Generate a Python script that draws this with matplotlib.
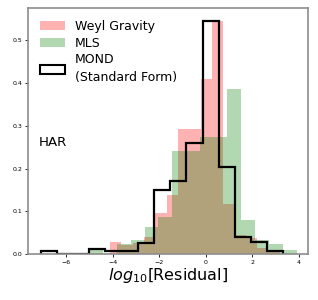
"""
plot.py

Residual histograms (HAR sample) for Weyl Gravity, MLS and MOND.
Saves the figure to out.png.
"""

import numpy as np
import matplotlib
matplotlib.use("Agg")
import matplotlib.pyplot as plt
from matplotlib.patches import Patch


# density heights, 15 bins per model
WEYL_RANGE = (-4.11, 3.185)
WEYL_HEIGHTS = [0.029, 0.021, 0.025, 0.040, 0.096, 0.138, 0.292, 0.292,
                0.409, 0.544, 0.118, 0.045, 0.037, 0.015, 0.006]

MLS_RANGE = (-5.00, 3.91)
MLS_HEIGHTS = [0.012, 0.000, 0.023, 0.033, 0.064, 0.087, 0.241, 0.241,
               0.273, 0.273, 0.385, 0.079, 0.033, 0.023, 0.009]

MOND_RANGE = (-7.094, 3.349)
MOND_HEIGHTS = [0.008, 0.000, 0.000, 0.013, 0.007, 0.007, 0.027, 0.150,
                0.170, 0.259, 0.544, 0.204, 0.040, 0.029, 0.007]

LABELS = ["Weyl Gravity", "MLS", "MOND\n(Standard Form)"]
X_TICKS = [-6, -4, -2, 0, 2, 4]
Y_TICKS = [0.0, 0.1, 0.2, 0.3, 0.4, 0.5]


def edges(rng, heights):
    return np.linspace(rng[0], rng[1], len(heights) + 1)


def main():
    fig = plt.figure(figsize=(3.18, 3.0), dpi=100)
    ax = fig.add_axes([0.088, 0.153, 0.881, 0.82])

    ax.stairs(WEYL_HEIGHTS, edges(WEYL_RANGE, WEYL_HEIGHTS), fill=True,
              color="red", alpha=0.3, lw=0)
    ax.stairs(MLS_HEIGHTS, edges(MLS_RANGE, MLS_HEIGHTS), fill=True,
              color="green", alpha=0.3, lw=0)
    ax.stairs(MOND_HEIGHTS, edges(MOND_RANGE, MOND_HEIGHTS), fill=False,
              color="black", lw=1.6)

    ax.set_xlim(-7.64, 4.41)
    ax.set_ylim(0, 0.575)
    ax.set_xticks(X_TICKS)
    ax.set_yticks(Y_TICKS)
    ax.set_yticklabels([f"{v:.1f}" for v in Y_TICKS])
    ax.tick_params(labelsize=4.5, length=2.5, width=0.6, pad=1.5)
    for sp in ax.spines.values():
        sp.set_color("0.55")
        sp.set_linewidth(1.2)

    ax.set_xlabel("$log_{10}$[Residual]", fontsize=11.5, labelpad=1)
    ax.text(0.04, 0.44, "HAR", transform=ax.transAxes, fontsize=9.6,
            va="baseline")

    handles = [
        Patch(facecolor="red", alpha=0.3, lw=0),
        Patch(facecolor="green", alpha=0.3, lw=0),
        Patch(facecolor="none", edgecolor="black", lw=1.5),
    ]
    leg = ax.legend(handles, LABELS, loc="upper left", frameon=False,
                    fontsize=9, borderaxespad=0.55, labelspacing=0.3,
                    handletextpad=0.8)
    leg.get_texts()[2].set_linespacing(1.5)

    fig.savefig("out.png", dpi=100)


if __name__ == "__main__":
    main()
